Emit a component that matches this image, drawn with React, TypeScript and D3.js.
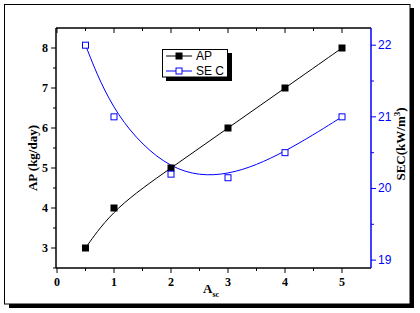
import React from "react";
import * as d3 from "d3";

const xValues = [0.5, 1, 2, 3, 4, 5];
const apValues = [3, 4, 5, 6, 7, 8];
const secValues = [22, 21, 20.2, 20.15, 20.5, 21];
const xTicks = [0, 1, 2, 3, 4, 5];
const apTicks = [3, 4, 5, 6, 7, 8];
const secTicks = [19, 20, 21, 22];

const W = 420, H = 313;
const L = 56, R = 371, T = 28, B = 268;

export default function App() {
  const x = d3.scaleLinear().domain([0, 5.5]).range([57, 370.5]);
  const yL = d3.scaleLinear().domain([2.5, 8.5]).range([B, T]);
  const yR = d3.scaleLinear().domain([18.89, 22.24]).range([B, T]);

  const apPts: [number, number][] = xValues.map((v, i) => [x(v), yL(apValues[i])]);
  const secPts: [number, number][] = xValues.map((v, i) => [x(v), yR(secValues[i])]);
  const apLine = d3.line().curve(d3.curveBasis)(apPts) as string;
  const secLine = d3.line().curve(d3.curveBasis)(secPts) as string;

  const xMinor = d3.range(0.5, 5.5, 1);
  const apMinor = d3.range(3.5, 8.5, 1).concat([2.5]);
  const secMinor = [19.5, 20.5, 21.5];
  const serif = "'Liberation Serif', 'Times New Roman', serif";
  const sans = "'Liberation Sans', Arial, sans-serif";
  const ms = 7;

  return (
    <svg width={W} height={H} style={{ position: "absolute", left: 0, top: 0, background: "#fff" }}>
      {/* frame shadow */}
      <rect x={9} y={304} width={405} height={4} fill="#000" />
      <rect x={410} y={8} width={4} height={300} fill="#000" />
      <rect x={4.5} y={4.5} width={405.5} height={299.5} fill="#fff" stroke="#000" strokeWidth={1} />

      {/* axes */}
      <line x1={L} x2={R} y1={B} y2={B} stroke="#000" strokeWidth={1.5} />
      <line x1={L} x2={R} y1={T} y2={T} stroke="#000" strokeWidth={1.5} />
      <line x1={L} x2={L} y1={T} y2={B} stroke="#000" strokeWidth={1.5} />
      <line x1={R} x2={R} y1={T} y2={B} stroke="#0000ff" strokeWidth={1.5} />

      {xTicks.map((t) => (
        <g key={"xt" + t}>
          <line x1={x(t)} x2={x(t)} y1={B} y2={B + 5} stroke="#000" />
          <line x1={x(t)} x2={x(t)} y1={T} y2={T + 5} stroke="#000" />
          <text x={x(t)} y={B + 18} textAnchor="middle" fontFamily={serif} fontWeight="bold" fontSize={12}>{t}</text>
        </g>
      ))}
      {xMinor.map((t) => (
        <g key={"xm" + t}>
          <line x1={x(t)} x2={x(t)} y1={B} y2={B + 3} stroke="#000" />
          <line x1={x(t)} x2={x(t)} y1={T} y2={T + 3} stroke="#000" />
        </g>
      ))}
      {apTicks.map((t) => (
        <g key={"yl" + t}>
          <line x1={L - 5} x2={L} y1={yL(t)} y2={yL(t)} stroke="#000" />
          <text x={L - 8} y={yL(t) + 4} textAnchor="end" fontFamily={serif} fontWeight="bold" fontSize={12}>{t}</text>
        </g>
      ))}
      {apMinor.map((t) => (
        <line key={"ylm" + t} x1={L - 3} x2={L} y1={yL(t)} y2={yL(t)} stroke="#000" />
      ))}
      {secTicks.map((t) => (
        <g key={"yr" + t}>
          <line x1={R} x2={R + 5} y1={yR(t)} y2={yR(t)} stroke="#0000ff" />
          <text x={R + 7} y={yR(t) + 4} textAnchor="start" fontFamily={sans} fontSize={12} fill="#0000ff">{t}</text>
        </g>
      ))}
      {secMinor.map((t) => (
        <line key={"yrm" + t} x1={R} x2={R + 3} y1={yR(t)} y2={yR(t)} stroke="#0000ff" />
      ))}

      {/* series */}
      <path d={apLine} fill="none" stroke="#000" strokeWidth={1} />
      <path d={secLine} fill="none" stroke="#0000ff" strokeWidth={1} />
      {apPts.map(([px, py], i) => (
        <rect key={"ap" + i} x={px - ms / 2} y={py - ms / 2} width={ms} height={ms} fill="#000" />
      ))}
      {secPts.map(([px, py], i) => (
        <rect key={"sec" + i} x={px - ms / 2 + 0.5} y={py - ms / 2 + 0.5} width={ms - 1} height={ms - 1} fill="#fff" stroke="#0000ff" strokeWidth={1} />
      ))}

      {/* legend */}
      <rect x={166} y={53} width={66} height={28} fill="#000" />
      <rect x={162.5} y={49.5} width={65} height={27.5} fill="#fff" stroke="#000" strokeWidth={1} />
      <line x1={166} x2={192} y1={56} y2={56} stroke="#000" />
      <rect x={175.5} y={52.5} width={7} height={7} fill="#000" />
      <text x={196} y={60} fontFamily={sans} fontSize={12}>AP</text>
      <line x1={166} x2={192} y1={71} y2={71} stroke="#0000ff" />
      <rect x={176} y={68} width={6} height={6} fill="#fff" stroke="#0000ff" />
      <text x={196} y={75} fontFamily={sans} fontSize={12}>SE C</text>

      {/* axis titles */}
      <text transform="translate(37,158) rotate(-90)" textAnchor="middle" fontFamily={serif} fontWeight="bold" fontSize={13}>AP (kg/day)</text>
      <text transform="translate(405,144) rotate(-90)" textAnchor="middle" fontFamily={serif} fontWeight="bold" fontSize={13}>
        SEC(kW/m<tspan dy={-5} fontSize={9}>3</tspan><tspan dy={5}>)</tspan>
      </text>
      <text x={203} y={293} fontFamily={serif} fontWeight="bold" fontSize={13}>A<tspan dy={4} fontSize={8}>sc</tspan></text>
    </svg>
  );
}
